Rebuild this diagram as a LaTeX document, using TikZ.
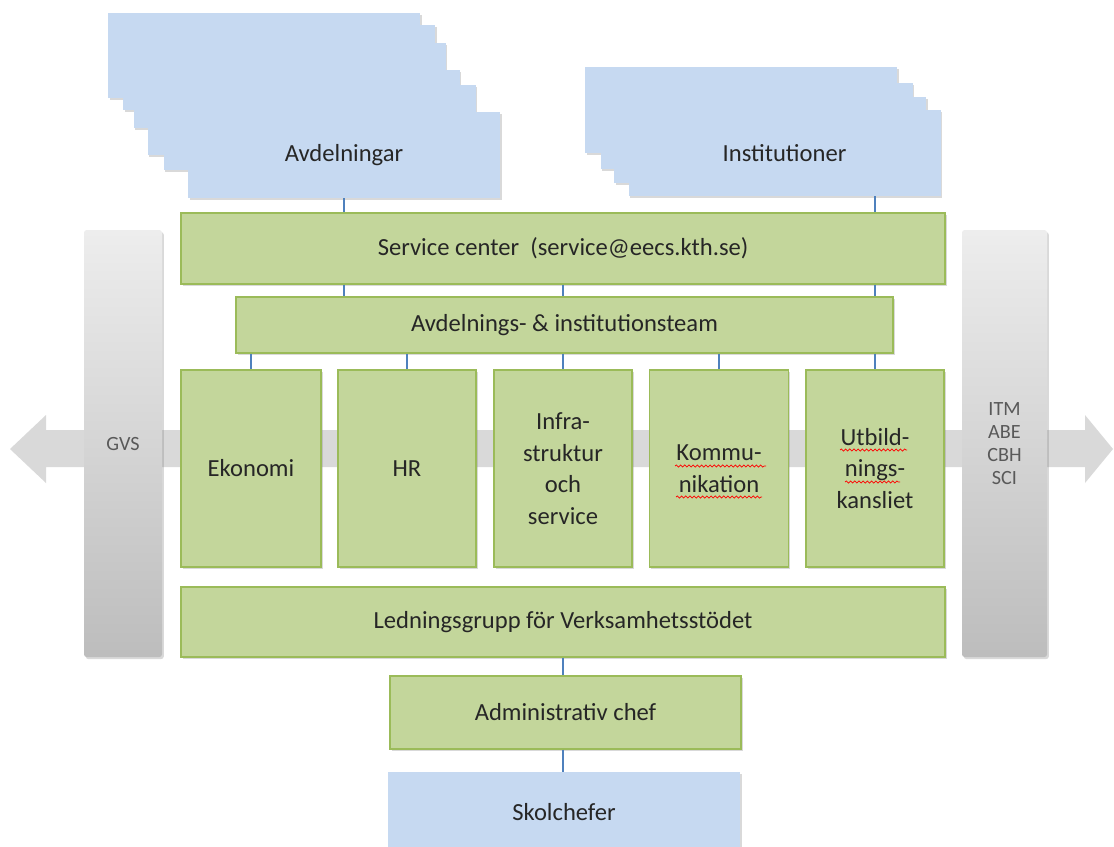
\documentclass[tikz,border=0pt]{standalone}
\usepackage{fontspec}
\setmainfont{Carlito}
\usetikzlibrary{shadows,decorations.pathmorphing}
\definecolor{boxblue}{HTML}{C6D9F1}
\definecolor{boxgreen}{HTML}{C3D69B}
\definecolor{linegreen}{HTML}{9BBB59}
\definecolor{linkblue}{HTML}{4F81BD}
\definecolor{textdark}{HTML}{262626}
\definecolor{sidegray}{HTML}{595959}
\definecolor{arrowgray}{HTML}{D9D9D9}
\tikzset{
	boxsize/.style 2 args={minimum width=#1*0.02cm,minimum height=#2*0.02cm},
	unit/.style={rectangle,inner sep=2pt,text=textdark,align=center,font=\fontsize{14}{18}\selectfont,
		drop shadow={shadow xshift=1pt,shadow yshift=-1.2pt,opacity=0.3}},
	blueunit/.style={unit,fill=boxblue},
	greenunit/.style={unit,fill=boxgreen,draw=linegreen,line width=0.8pt},
	sidebar/.style={rectangle,rounded corners=1.5pt,top color=black!7,bottom color=black!26,
		text=sidegray,align=center,font=\fontsize{11.5}{13}\selectfont,
		drop shadow={shadow xshift=1pt,shadow yshift=-1.2pt,opacity=0.3}},
	link/.style={linkblue,line width=0.8pt},
	spell/.style={red,line width=0.4pt,decorate,decoration={snake,amplitude=0.6pt,segment length=2.4pt}}
}
\begin{document}
\begin{tikzpicture}[x=0.02cm,y=-0.02cm]
	\useasboundingbox (0,0) rectangle (1114,846);
	\fill[arrowgray] (10,449)--(46,415)--(46,430)--(1085,430)--(1085,415)--(1113,449)--(1085,483)--(1085,467)--(46,467)--(46,483)--cycle;
	\node[sidebar,boxsize={78}{427}] (gvs) at (123,443.5) {GVS};
	\node[sidebar,boxsize={85}{427}] (other) at (1004.5,443.5) {ITM\\ABE\\CBH\\SCI};
	\node[blueunit,boxsize={312}{85}] (av1) at (264,55.5) {};
	\node[blueunit,boxsize={312}{85}] (av2) at (279,67.5) {};
	\node[blueunit,boxsize={312}{85}] (av3) at (289.5,85.5) {};
	\node[blueunit,boxsize={312}{85}] (av4) at (303.5,112.5) {};
	\node[blueunit,boxsize={312}{85}] (av5) at (319.5,127.5) {};
	\node[blueunit,boxsize={312}{86}] (avd) at (344,155) {Avdelningar};
	\node[blueunit,boxsize={312}{86}] (in1) at (741,110) {};
	\node[blueunit,boxsize={312}{86}] (in2) at (756.5,125.5) {};
	\node[blueunit,boxsize={312}{86}] (in3) at (770,140) {};
	\node[blueunit,boxsize={312}{86}] (inst) at (784.5,153) {Institutioner};
	\node[greenunit,boxsize={764}{71}] (svc) at (563,248.5) {Service center\ \ (service@eecs.kth.se)};
	\node[greenunit,boxsize={657}{56}] (team) at (564.5,325) {Avdelnings- \& institutionsteam};
	\node[greenunit,boxsize={140}{197}] (eko) at (251,468.5) {Ekonomi};
	\node[greenunit,boxsize={138}{197}] (hr) at (407,468.5) {HR};
	\node[greenunit,boxsize={138}{197}] (infra) at (563,468.5) {Infra-\\struktur\\och\\service};
	\node[greenunit,boxsize={139}{197}] (komm) at (719,468.5) {Kommu-\\nikation};
	\node[greenunit,boxsize={138}{197}] (utb) at (875,468.5) {Utbild-\\nings-\\kansliet};
	\node[greenunit,boxsize={764}{70}] (led) at (563,622) {Ledningsgrupp för Verksamhetsstödet};
	\node[greenunit,boxsize={351}{73}] (adm) at (565.5,712.5) {Administrativ chef};
	\node[blueunit,boxsize={352}{80}] (sko) at (564,812) {Skolchefer};
	\draw[link] (avd.south) -- (avd.south |- svc.north);
	\draw[link] (utb.north |- inst.south) -- (utb.north |- svc.north);
	\draw[link] (avd.south |- svc.south) -- (avd.south |- team.north);
	\draw[link] (infra.north |- svc.south) -- (infra.north |- team.north);
	\draw[link] (utb.north |- svc.south) -- (utb.north |- team.north);
	\foreach \u in {eko,hr,infra,komm,utb}
		\draw[link] (\u.north |- team.south) -- (\u.north);
	\draw[link] (led.south) -- (led.south |- adm.north);
	\draw[link] (led.south |- adm.south) -- (led.south |- sko.north);
	\draw[spell] (675,466) -- (766,466);
	\draw[spell] (676,497) -- (762,497);
	\draw[spell] (840,450) -- (907,450);
	\draw[spell] (845,482) -- (900,482);
\end{tikzpicture}
\end{document}
